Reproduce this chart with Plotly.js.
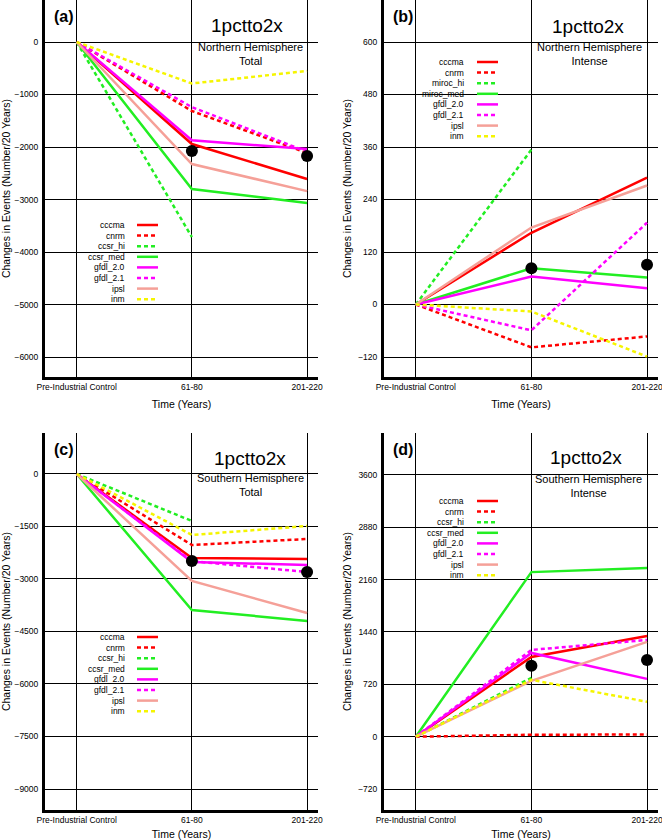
<!DOCTYPE html>
<html>
<head>
<meta charset="utf-8">
<script src="https://cdn.plot.ly/plotly-3.0.1.min.js"></script>
<style>html,body{margin:0;padding:0;background:#fff}#chart{width:662px;height:840px}</style>
</head>
<body>
<div id="chart"></div>
<script>
// ---------- DATA ----------
const categories = ['Pre-Industrial Control', '61-80', '201-220'];

const namesA = ['cccma', 'cnrm', 'ccsr_hi', 'ccsr_med', 'gfdl_2.0', 'gfdl_2.1', 'ipsl', 'inm'];
const namesB = ['cccma', 'cnrm', 'miroc_hi', 'miroc_med', 'gfdl_2.0', 'gfdl_2.1', 'ipsl', 'inm'];

// (a) Northern Hemisphere Total
const a_cccma   = [0, -1943, -2610];
const a_cnrm    = [0, -1314, -2114];
const a_ccsr_hi = [0, -3714, null];
const a_ccsr_med= [0, -2800, -3067];
const a_gfdl20  = [0, -1870, -2040];
const a_gfdl21  = [0, -1240, -2090];
const a_ipsl    = [0, -2324, -2840];
const a_inm     = [0, -790, -552];
const a_obs     = [null, -2076, -2170];

// (b) Northern Hemisphere Intense
const b_cccma    = [0, 164, 290];
const b_cnrm     = [0, -98, -73];
const b_miroc_hi = [0, 354, null];
const b_miroc_med= [0, 83, 62];
const b_gfdl20   = [0, 64, 37];
const b_gfdl21   = [0, -59, 187];
const b_ipsl     = [0, 176, 272];
const b_inm      = [0, -16, -119];
const b_obs      = [null, 83, 91];

// (c) Southern Hemisphere Total
const c_cccma   = [0, -2400, -2430];
const c_cnrm    = [0, -2029, -1857];
const c_ccsr_hi = [0, -1343, null];
const c_ccsr_med= [0, -3886, -4200];
const c_gfdl20  = [0, -2514, -2600];
const c_gfdl21  = [0, -2490, -2800];
const c_ipsl    = [0, -3057, -3971];
const c_inm     = [0, -1743, -1486];
const c_obs     = [null, -2486, -2800];

// (d) Southern Hemisphere Intense
const d_cccma   = [0, 1097, 1385];
const d_cnrm    = [0, 27, 30];
const d_ccsr_hi = [0, 809, null];
const d_ccsr_med= [0, 2263, 2318];
const d_gfdl20  = [0, 1152, 795];
const d_gfdl21  = [0, 1193, 1330];
const d_ipsl    = [0, 768, 1303];
const d_inm     = [0, 782, 480];
const d_obs     = [null, 974, 1056];

const yTicksA = [0, -1000, -2000, -3000, -4000, -5000, -6000];
const yTicksB = [600, 480, 360, 240, 120, 0, -120];
const yTicksC = [0, -1500, -3000, -4500, -6000, -7500, -9000];
const yTicksD = [3600, 2880, 2160, 1440, 720, 0, -720];

// ---------- STYLE ----------
const RED = '#ff0000', GREEN = '#22ee22', MAG = '#ff00ff', SALMON = '#f5a098', YEL = '#f5f500';
const styles = [
  {color: RED, dash: 'solid'},
  {color: RED, dash: '4px,3px'},
  {color: GREEN, dash: '4px,3px'},
  {color: GREEN, dash: 'solid'},
  {color: MAG, dash: 'solid'},
  {color: MAG, dash: '4px,3px'},
  {color: SALMON, dash: 'solid'},
  {color: YEL, dash: '4px,3px'}
];
const FONT = 'Liberation Sans, Arial, Helvetica, sans-serif';
const W = 662, H = 840;
const px = v => v / W;
const py = v => 1 - v / H;

const panels = [
  {key: '', label: '(a)', series: [a_cccma, a_cnrm, a_ccsr_hi, a_ccsr_med, a_gfdl20, a_gfdl21, a_ipsl, a_inm], obs: a_obs,
   names: namesA, ticks: yTicksA, range: [-6380, 800], xd: [45, 318], yd: [0, 377],
   sub: 'Northern Hemisphere<br>Total', titleXY: [247, 25], subXY: [250, 53.5], labXY: [64, 16],
   leg: {textR: 127, l0: 137, l1: 158, y0: 225}},
  {key: '2', label: '(b)', series: [b_cccma, b_cnrm, b_miroc_hi, b_miroc_med, b_gfdl20, b_gfdl21, b_ipsl, b_inm], obs: b_obs,
   names: namesB, ticks: yTicksB, range: [-165.7, 696], xd: [384, 658], yd: [0, 377],
   sub: 'Northern Hemisphere<br>Intense', titleXY: [588, 27], subXY: [589, 53.5], labXY: [403, 16],
   leg: {textR: 466, l0: 477, l1: 498, y0: 62}},
  {key: '3', label: '(c)', series: [c_cccma, c_cnrm, c_ccsr_hi, c_ccsr_med, c_gfdl20, c_gfdl21, c_ipsl, c_inm], obs: c_obs,
   names: namesA, ticks: yTicksC, range: [-9600, 1171], xd: [45, 318], yd: [433, 810],
   sub: 'Southern Hemisphere<br>Total', titleXY: [250, 459], subXY: [250, 485.5], labXY: [64, 449],
   leg: {textR: 127, l0: 137, l1: 158, y0: 637}},
  {key: '4', label: '(d)', series: [d_cccma, d_cnrm, d_ccsr_hi, d_ccsr_med, d_gfdl20, d_gfdl21, d_ipsl, d_inm], obs: d_obs,
   names: namesA, ticks: yTicksD, range: [-1008, 4176], xd: [384, 658], yd: [433, 810],
   sub: 'Southern Hemisphere<br>Intense', titleXY: [586, 458], subXY: [588, 486], labXY: [403, 449],
   leg: {textR: 466, l0: 477, l1: 498, y0: 501}}
];

const traces = [];
const layout = {
  width: W, height: H, margin: {l: 0, r: 0, t: 0, b: 0},
  paper_bgcolor: '#fff', plot_bgcolor: '#fff', showlegend: false,
  font: {family: FONT, color: '#000'},
  annotations: [], shapes: []
};

panels.forEach(p => {
  const xa = 'x' + p.key, ya = 'y' + p.key;
  p.series.forEach((vals, i) => {
    traces.push({
      type: 'scatter', mode: 'lines', x: categories, y: vals, xaxis: xa, yaxis: ya,
      name: p.names[i], line: {color: styles[i].color, dash: styles[i].dash, width: 2.5}, hoverinfo: 'skip'
    });
  });
  traces.push({type: 'scatter', mode: 'markers', x: categories, y: p.obs, xaxis: xa, yaxis: ya,
    marker: {color: '#000', size: 12}, hoverinfo: 'skip'});

  const xName = 'xaxis' + p.key, yName = 'yaxis' + p.key;
  layout[xName] = {
    domain: [px(p.xd[0]), px(p.xd[1])], anchor: ya, type: 'category',
    categoryorder: 'array', categoryarray: categories,
    range: [-0.275, 2.095], showgrid: true, gridcolor: '#000', gridwidth: 1,
    showline: true, linecolor: '#000', linewidth: 3, ticks: '', zeroline: false,
    tickfont: {size: 8.5, family: FONT}, fixedrange: true,
    title: {text: 'Time (Years)', font: {size: 10.5, family: FONT}, standoff: 10}
  };
  layout[yName] = {
    domain: [py(p.yd[1]), py(p.yd[0])], anchor: xa, range: p.range,
    tickvals: p.ticks, showgrid: true, gridcolor: '#000', gridwidth: 1, zeroline: false,
    showline: true, linecolor: '#000', linewidth: 3, ticks: '', ticklabelstandoff: 2,
    tickfont: {size: 8.5, family: FONT}, fixedrange: true,
    title: {text: 'Changes in Events (Number/20 Years)', font: {size: 10.5, family: FONT}, standoff: 5}
  };

  layout.annotations.push(
    {xref: 'paper', yref: 'paper', x: px(p.titleXY[0]), y: py(p.titleXY[1]), text: '1pctto2x',
     showarrow: false, xanchor: 'center', yanchor: 'middle', font: {size: 19, family: FONT}},
    {xref: 'paper', yref: 'paper', x: px(p.subXY[0]), y: py(p.subXY[1]), text: p.sub,
     showarrow: false, xanchor: 'center', yanchor: 'middle', font: {size: 11, family: FONT}},
    {xref: 'paper', yref: 'paper', x: px(p.labXY[0]), y: py(p.labXY[1]), text: '<b>' + p.label + '</b>',
     showarrow: false, xanchor: 'center', yanchor: 'middle', font: {size: 16, family: FONT}}
  );
  p.names.forEach((n, i) => {
    const yy = p.leg.y0 + i * 10.6;
    layout.annotations.push({xref: 'paper', yref: 'paper', x: px(p.leg.textR), y: py(yy), text: n,
      showarrow: false, xanchor: 'right', yanchor: 'middle', font: {size: 8.5, family: FONT}});
    layout.shapes.push({type: 'line', xref: 'paper', yref: 'paper', x0: px(p.leg.l0), x1: px(p.leg.l1),
      y0: py(yy), y1: py(yy), line: {color: styles[i].color, dash: styles[i].dash, width: 2.5}});
  });
});

Plotly.newPlot('chart', traces, layout, {staticPlot: true, displayModeBar: false});
</script>
</body>
</html>
